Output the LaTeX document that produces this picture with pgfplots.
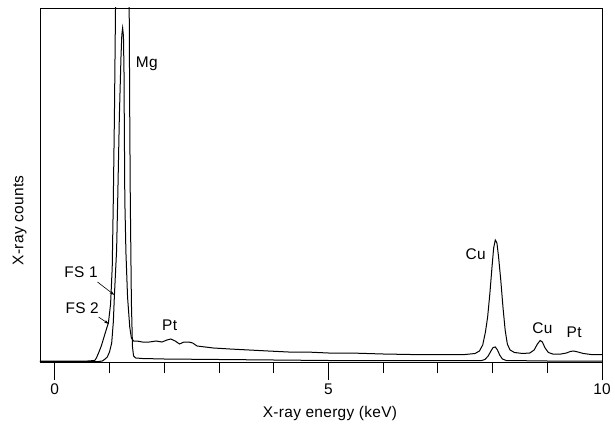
\documentclass[border=0pt]{standalone}
\usepackage{fontspec}
\setmainfont{Liberation Sans}[LetterSpace=2]
\usepackage{pgfplots}
\pgfplotsset{compat=1.18}
\usetikzlibrary{arrows.meta}

\newcommand{\lbl}{\fontsize{15.5}{18}\selectfont}

\begin{document}
\begin{tikzpicture}
\useasboundingbox (-40bp,-70bp) rectangle (575bp,362bp);
\begin{axis}[
    width=562bp, height=354bp, scale only axis,
    xmin=-0.27, xmax=10, ymin=0, ymax=354,
    xtick={0,5,10},
    minor xtick={1,2,3,4,6,7,8,9},
    xtick pos=bottom,
    xtick align=outside,
    major tick length=18bp,
    minor tick length=11bp,
    ytick=\empty,
    axis line style={line width=0.8bp},
    every tick/.style={black, line width=0.8bp},
    every minor tick/.style={black, line width=0.8bp},
    tick label style={font=\lbl},
    /pgf/number format/assume math mode=true,
    xlabel={X-ray energy (keV)},
    ylabel={X-ray counts},
    label style={font=\lbl},
    xlabel style={at={(axis description cs:0.516,-0.145)}, anchor=center},
    ylabel style={at={(axis description cs:-0.036,0.40)}, anchor=center},
]
% FS 2: wide Mg peak (clipped), low background
\addplot[black, line width=1bp] coordinates {
    (-0.27,1) (0.6,1) (0.73,1.5) (0.76,4) (0.80,9) (0.85,16) (0.90,25)
    (0.95,34) (0.98,39) (1.02,58) (1.05,95) (1.07,163) (1.09,246)
    (1.11,354) (1.14,480) (1.22,600) (1.28,600) (1.34,430) (1.36,354)
    (1.37,246) (1.38,163) (1.40,60) (1.42,15) (1.44,6) (1.48,4)
    (1.6,3.5) (2,3) (3,2.5) (4,2) (5,1.5) (6,1.5) (7,1.5) (7.8,1.5)
    (7.86,2.5) (7.92,6) (7.97,11) (8.01,14.5) (8.05,15) (8.09,12)
    (8.13,7) (8.18,3) (8.25,1.5) (9,1) (10,1)
};
% FS 1: narrower Mg peak, Pt background, Cu peaks
\addplot[black, line width=1bp] coordinates {
    (-0.27,0.5) (0.80,0.5) (0.87,1) (0.92,3) (0.96,5) (1.00,10) (1.04,19)
    (1.07,40) (1.09,67) (1.13,112) (1.15,162) (1.18,245) (1.21,305)
    (1.225,327) (1.24,334) (1.255,326) (1.265,290) (1.27,245) (1.28,162)
    (1.30,110) (1.33,65) (1.37,35) (1.40,24) (1.44,21) (1.5,21) (1.6,20)
    (1.73,20) (1.85,21) (1.96,20) (2.05,22) (2.12,23) (2.2,21) (2.28,18)
    (2.36,20) (2.45,20) (2.52,19) (2.6,16) (2.75,15) (2.9,14) (3.2,13)
    (3.55,12) (3.9,11) (4.27,10) (4.6,10) (5.0,9) (5.4,9) (6,8)
    (6.5,7.5) (7,7.5) (7.5,7.5) (7.68,8.5) (7.76,11) (7.82,17) (7.87,30)
    (7.91,45) (7.95,68) (7.99,95) (8.02,114) (8.05,122) (8.08,119)
    (8.11,105) (8.15,82) (8.19,55) (8.23,32) (8.27,18) (8.32,12)
    (8.40,9.5) (8.55,8.5) (8.68,9) (8.76,12) (8.82,18) (8.87,21.5)
    (8.91,20) (8.96,14) (9.02,9.5) (9.1,8) (9.25,8) (9.35,9)
    (9.42,10.5) (9.48,11) (9.56,10) (9.66,8.5) (9.8,7.5) (10,7.5)
};
\node[font=\lbl] at (axis cs:1.68,298) {Mg};
\node[font=\lbl] at (axis cs:2.10,37) {Pt};
\node[font=\lbl] at (axis cs:7.69,108) {Cu};
\node[font=\lbl] at (axis cs:8.91,34) {Cu};
\node[font=\lbl] at (axis cs:9.49,30) {Pt};
\node[font=\lbl] at (axis cs:0.48,90) {FS 1};
\node[font=\lbl] at (axis cs:0.50,54) {FS 2};
\draw[-{Stealth[length=5bp,width=3bp]}, line width=0.6bp]
    (axis cs:0.78,80) -- (axis cs:1.09,67);
\draw[-{Stealth[length=5bp,width=3bp]}, line width=0.6bp]
    (axis cs:0.80,45) -- (axis cs:0.99,38);
\end{axis}
\end{tikzpicture}
\end{document}
